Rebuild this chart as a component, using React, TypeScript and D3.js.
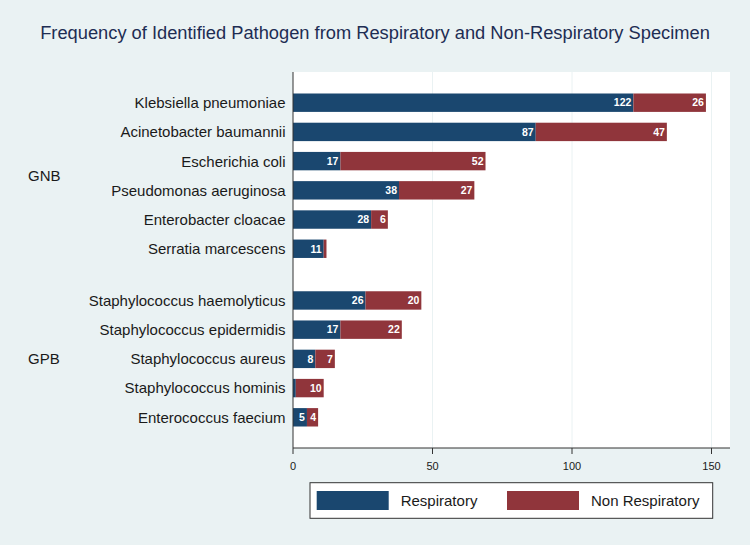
import React from "react";
import * as d3 from "d3";

const categories = [
  "Klebsiella pneumoniae",
  "Acinetobacter baumannii",
  "Escherichia coli",
  "Pseudomonas aeruginosa",
  "Enterobacter cloacae",
  "Serratia marcescens",
  "Staphylococcus haemolyticus",
  "Staphylococcus epidermidis",
  "Staphylococcus aureus",
  "Staphylococcus hominis",
  "Enterococcus faecium",
];
const groups = ["GNB", "GNB", "GNB", "GNB", "GNB", "GNB", "GPB", "GPB", "GPB", "GPB", "GPB"];
const respiratory = [122, 87, 17, 38, 28, 11, 26, 17, 8, 1, 5];
const nonRespiratory = [26, 47, 52, 27, 6, 1, 20, 22, 7, 10, 4];
const xTicks = [0, 50, 100, 150];
const seriesNames = ["Respiratory", "Non Respiratory"];

const W = 750;
const H = 545;
const BLUE = "#1a476f";
const RED = "#90353b";
const BG = "#eaf2f3";
const FONT = "'Liberation Sans', Arial, Helvetica, sans-serif";

export default function App() {
  const plotLeft = 293;
  const plotRight = 730;
  const plotTop = 72;
  const plotBottom = 448;

  const x = d3.scaleLinear().domain([0, 150]).range([plotLeft, 711.5]);

  const groupNames = Array.from(new Set(groups));
  const GAP = 0.77;
  const slots = categories.map((_, i) => i + groupNames.indexOf(groups[i]) * GAP);
  const y = d3
    .scaleLinear()
    .domain([0, d3.max(slots) as number])
    .range([102.7, 417.3]);
  const barH = 18.4;

  const showLabel = (v: number) => v >= 3;

  return (
    <svg
      width={W}
      height={H}
      style={{ position: "absolute", left: 0, top: 0, display: "block" }}
      fontFamily={FONT}
    >
      <rect x={0} y={0} width={W} height={H} fill={BG} />
      <text
        x={375}
        y={39}
        textAnchor="middle"
        fontSize={18.3}
        fill="#1e2d53"
      >
        Frequency of Identified Pathogen from Respiratory and Non-Respiratory Specimen
      </text>

      {/* plot region */}
      <rect x={plotLeft} y={plotTop} width={plotRight - plotLeft} height={plotBottom - plotTop} fill="#ffffff" />
      {xTicks.slice(1).map((t) => (
        <line key={"g" + t} x1={x(t)} x2={x(t)} y1={plotTop} y2={plotBottom} stroke={BG} strokeWidth={1} />
      ))}

      {/* bars */}
      {categories.map((c, i) => {
        const yc = y(slots[i]);
        const r = respiratory[i];
        const n = nonRespiratory[i];
        return (
          <g key={c}>
            <rect x={x(0)} y={yc - barH / 2} width={x(r) - x(0)} height={barH} fill={BLUE} />
            <rect x={x(r)} y={yc - barH / 2} width={x(r + n) - x(r)} height={barH} fill={RED} />
            {showLabel(r) && (
              <text x={x(r) - 2} y={yc} dy="0.36em" textAnchor="end" fontSize={10.5} fontWeight="bold" fill="#ffffff">
                {r}
              </text>
            )}
            {showLabel(n) && (
              <text x={x(r + n) - 2} y={yc} dy="0.36em" textAnchor="end" fontSize={10.5} fontWeight="bold" fill="#ffffff">
                {n}
              </text>
            )}
            <text x={285.5} y={yc} dy="0.36em" textAnchor="end" fontSize={15} fill="#1a1a1a">
              {c}
            </text>
          </g>
        );
      })}

      {/* group labels */}
      {groupNames.map((g) => {
        const ys = slots.filter((_, i) => groups[i] === g).map((s) => y(s));
        const yc = ((d3.min(ys) as number) + (d3.max(ys) as number)) / 2;
        return (
          <text key={g} x={28} y={yc} dy="0.36em" fontSize={15} fill="#1a1a1a">
            {g}
          </text>
        );
      })}

      {/* axes */}
      <line x1={plotLeft} x2={plotLeft} y1={plotTop} y2={plotBottom} stroke="#333" strokeWidth={1} />
      <line x1={plotLeft} x2={plotRight} y1={plotBottom} y2={plotBottom} stroke="#333" strokeWidth={1} />
      {xTicks.map((t) => (
        <g key={"t" + t}>
          <line x1={x(t)} x2={x(t)} y1={plotBottom} y2={plotBottom + 6} stroke="#333" strokeWidth={1} />
          <text x={x(t)} y={466} dy="0.36em" textAnchor="middle" fontSize={11} fill="#1a1a1a">
            {t}
          </text>
        </g>
      ))}

      {/* legend */}
      <rect x={310} y={482.7} width={402.7} height={35.6} fill="#ffffff" stroke="#333" strokeWidth={1} />
      {seriesNames.map((s, i) => {
        const sx = i === 0 ? 316.7 : 507;
        return (
          <g key={s}>
            <rect x={sx} y={491} width={72} height={19} fill={i === 0 ? BLUE : RED} />
            <text x={sx + 84} y={501} dy="0.36em" fontSize={15} fill="#1a1a1a">
              {s}
            </text>
          </g>
        );
      })}
    </svg>
  );
}
